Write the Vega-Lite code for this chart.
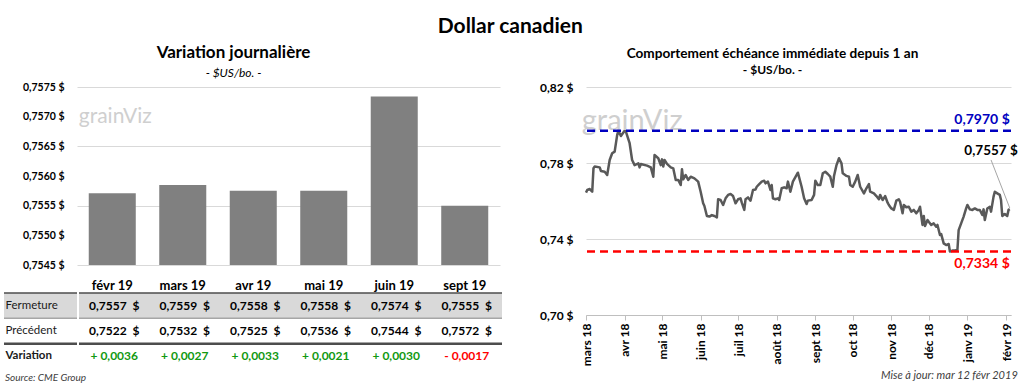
{
  "$schema": "https://vega.github.io/schema/vega-lite/v6.json",
  "background": "white",
  "padding": {"left": 2, "right": 2, "top": 16, "bottom": 2},
  "title": {"text": "Dollar canadien", "fontSize": 21, "fontWeight": "bold", "color": "#000000", "anchor": "middle", "offset": 7},
  "spacing": 35,
  "config": {
    "font": "Lato",
    "view": {"stroke": null},
    "title": {"font": "Lato", "color": "#000000", "subtitleFont": "Lato", "subtitleColor": "#000000"},
    "axis": {"labelFont": "Lato", "titleFont": "Lato", "labelOverlap": false},
    "text": {"font": "Lato"},
    "locale": {
      "number": {"decimal": ",", "thousands": " ", "grouping": [3], "currency": ["", " $"]},
      "time": {
        "dateTime": "%A %e %B %Y à %X",
        "date": "%d/%m/%Y",
        "time": "%H:%M:%S",
        "periods": ["AM", "PM"],
        "days": ["dimanche", "lundi", "mardi", "mercredi", "jeudi", "vendredi", "samedi"],
        "shortDays": ["dim.", "lun.", "mar.", "mer.", "jeu.", "ven.", "sam."],
        "months": ["janvier", "février", "mars", "avril", "mai", "juin", "juillet", "août", "septembre", "octobre", "novembre", "décembre"],
        "shortMonths": ["janv", "févr", "mars", "avr", "mai", "juin", "juil", "août", "sept", "oct", "nov", "déc"]
      }
    }
  },
  "datasets": {
    "months": [
      {"month": "févr 19", "close": 0.75571},
      {"month": "mars 19", "close": 0.75585},
      {"month": "avr 19", "close": 0.75575},
      {"month": "mai 19", "close": 0.75575},
      {"month": "juin 19", "close": 0.75734},
      {"month": "sept 19", "close": 0.7555}
    ],
    "table": [
      {"month": "févr 19", "row": "Fermeture", "value": 0.7557, "label": "0,7557 \u00a0$"},
      {"month": "mars 19", "row": "Fermeture", "value": 0.7559, "label": "0,7559 \u00a0$"},
      {"month": "avr 19", "row": "Fermeture", "value": 0.7558, "label": "0,7558 \u00a0$"},
      {"month": "mai 19", "row": "Fermeture", "value": 0.7558, "label": "0,7558 \u00a0$"},
      {"month": "juin 19", "row": "Fermeture", "value": 0.7574, "label": "0,7574 \u00a0$"},
      {"month": "sept 19", "row": "Fermeture", "value": 0.7555, "label": "0,7555 \u00a0$"},
      {"month": "févr 19", "row": "Précédent", "value": 0.7522, "label": "0,7522 \u00a0$"},
      {"month": "mars 19", "row": "Précédent", "value": 0.7532, "label": "0,7532 \u00a0$"},
      {"month": "avr 19", "row": "Précédent", "value": 0.7525, "label": "0,7525 \u00a0$"},
      {"month": "mai 19", "row": "Précédent", "value": 0.7536, "label": "0,7536 \u00a0$"},
      {"month": "juin 19", "row": "Précédent", "value": 0.7544, "label": "0,7544 \u00a0$"},
      {"month": "sept 19", "row": "Précédent", "value": 0.7572, "label": "0,7572 \u00a0$"},
      {"month": "févr 19", "row": "Variation", "value": 0.0036, "label": "+ 0,0036"},
      {"month": "mars 19", "row": "Variation", "value": 0.0027, "label": "+ 0,0027"},
      {"month": "avr 19", "row": "Variation", "value": 0.0033, "label": "+ 0,0033"},
      {"month": "mai 19", "row": "Variation", "value": 0.0021, "label": "+ 0,0021"},
      {"month": "juin 19", "row": "Variation", "value": 0.003, "label": "+ 0,0030"},
      {"month": "sept 19", "row": "Variation", "value": -0.0017, "label": "- 0,0017"}
    ],
    "levels": [
      {"d": "2019-02-04", "v": 0.797, "label": "0,7970 $", "kind": "Maximum"},
      {"d": "2019-02-04", "v": 0.7334, "label": "0,7334 $", "kind": "Minimum"}
    ],
    "series": [
      {"d": "2018-03-01", "v": 0.7644}, {"d": "2018-03-02", "v": 0.7658}, {"d": "2018-03-04", "v": 0.7663}, {"d": "2018-03-06", "v": 0.7649},
      {"d": "2018-03-07", "v": 0.7772}, {"d": "2018-03-08", "v": 0.7781}, {"d": "2018-03-12", "v": 0.7777}, {"d": "2018-03-13", "v": 0.7758},
      {"d": "2018-03-16", "v": 0.7754}, {"d": "2018-03-18", "v": 0.7737}, {"d": "2018-03-20", "v": 0.7816}, {"d": "2018-03-22", "v": 0.7851},
      {"d": "2018-03-24", "v": 0.786}, {"d": "2018-03-26", "v": 0.7947}, {"d": "2018-03-27", "v": 0.797}, {"d": "2018-03-29", "v": 0.7942},
      {"d": "2018-04-01", "v": 0.797}, {"d": "2018-04-02", "v": 0.7965}, {"d": "2018-04-05", "v": 0.7904}, {"d": "2018-04-07", "v": 0.7816},
      {"d": "2018-04-09", "v": 0.7789}, {"d": "2018-04-12", "v": 0.7798}, {"d": "2018-04-13", "v": 0.7777}, {"d": "2018-04-14", "v": 0.7795},
      {"d": "2018-04-19", "v": 0.7786}, {"d": "2018-04-22", "v": 0.7777}, {"d": "2018-04-24", "v": 0.7728}, {"d": "2018-04-25", "v": 0.7842},
      {"d": "2018-04-28", "v": 0.7825}, {"d": "2018-04-30", "v": 0.7789}, {"d": "2018-05-01", "v": 0.7819}, {"d": "2018-05-02", "v": 0.7781},
      {"d": "2018-05-03", "v": 0.7816}, {"d": "2018-05-05", "v": 0.7795}, {"d": "2018-05-08", "v": 0.7777}, {"d": "2018-05-10", "v": 0.7772},
      {"d": "2018-05-12", "v": 0.7711}, {"d": "2018-05-14", "v": 0.7711}, {"d": "2018-05-16", "v": 0.7684}, {"d": "2018-05-17", "v": 0.7767},
      {"d": "2018-05-18", "v": 0.7714}, {"d": "2018-05-20", "v": 0.7737}, {"d": "2018-05-22", "v": 0.7711}, {"d": "2018-05-24", "v": 0.7728},
      {"d": "2018-05-27", "v": 0.7719}, {"d": "2018-05-30", "v": 0.7702}, {"d": "2018-06-01", "v": 0.7649}, {"d": "2018-06-03", "v": 0.7588},
      {"d": "2018-06-04", "v": 0.7574}, {"d": "2018-06-06", "v": 0.7521}, {"d": "2018-06-08", "v": 0.7518}, {"d": "2018-06-10", "v": 0.7526},
      {"d": "2018-06-12", "v": 0.7521}, {"d": "2018-06-14", "v": 0.7514}, {"d": "2018-06-15", "v": 0.7609}, {"d": "2018-06-17", "v": 0.7605},
      {"d": "2018-06-19", "v": 0.7579}, {"d": "2018-06-21", "v": 0.7614}, {"d": "2018-06-23", "v": 0.7632}, {"d": "2018-06-25", "v": 0.7637},
      {"d": "2018-06-27", "v": 0.7626}, {"d": "2018-06-29", "v": 0.7588}, {"d": "2018-07-01", "v": 0.7609}, {"d": "2018-07-03", "v": 0.7614},
      {"d": "2018-07-04", "v": 0.7591}, {"d": "2018-07-06", "v": 0.7553}, {"d": "2018-07-07", "v": 0.7609}, {"d": "2018-07-09", "v": 0.7619},
      {"d": "2018-07-11", "v": 0.7602}, {"d": "2018-07-13", "v": 0.7658}, {"d": "2018-07-15", "v": 0.7661}, {"d": "2018-07-16", "v": 0.7675},
      {"d": "2018-07-18", "v": 0.7689}, {"d": "2018-07-20", "v": 0.7702}, {"d": "2018-07-22", "v": 0.7707}, {"d": "2018-07-23", "v": 0.7693},
      {"d": "2018-07-25", "v": 0.7702}, {"d": "2018-07-27", "v": 0.7658}, {"d": "2018-07-28", "v": 0.7684}, {"d": "2018-07-29", "v": 0.7614},
      {"d": "2018-07-31", "v": 0.7609}, {"d": "2018-08-02", "v": 0.7614}, {"d": "2018-08-03", "v": 0.7605}, {"d": "2018-08-05", "v": 0.7667},
      {"d": "2018-08-07", "v": 0.7672}, {"d": "2018-08-09", "v": 0.7667}, {"d": "2018-08-10", "v": 0.7702}, {"d": "2018-08-12", "v": 0.7649},
      {"d": "2018-08-14", "v": 0.7702}, {"d": "2018-08-17", "v": 0.7737}, {"d": "2018-08-18", "v": 0.7749}, {"d": "2018-08-21", "v": 0.7675},
      {"d": "2018-08-23", "v": 0.7614}, {"d": "2018-08-25", "v": 0.7584}, {"d": "2018-08-26", "v": 0.7602}, {"d": "2018-08-29", "v": 0.7605},
      {"d": "2018-08-31", "v": 0.7632}, {"d": "2018-09-01", "v": 0.7707}, {"d": "2018-09-03", "v": 0.7684}, {"d": "2018-09-05", "v": 0.7684},
      {"d": "2018-09-07", "v": 0.7746}, {"d": "2018-09-09", "v": 0.7754}, {"d": "2018-09-11", "v": 0.7742}, {"d": "2018-09-13", "v": 0.7728},
      {"d": "2018-09-15", "v": 0.7675}, {"d": "2018-09-16", "v": 0.7732}, {"d": "2018-09-18", "v": 0.7789}, {"d": "2018-09-20", "v": 0.7825},
      {"d": "2018-09-22", "v": 0.7798}, {"d": "2018-09-23", "v": 0.7746}, {"d": "2018-09-26", "v": 0.7732}, {"d": "2018-09-28", "v": 0.7728},
      {"d": "2018-09-29", "v": 0.7684}, {"d": "2018-10-01", "v": 0.7675}, {"d": "2018-10-03", "v": 0.7702}, {"d": "2018-10-05", "v": 0.7737},
      {"d": "2018-10-07", "v": 0.7675}, {"d": "2018-10-10", "v": 0.764}, {"d": "2018-10-12", "v": 0.7667}, {"d": "2018-10-14", "v": 0.7689},
      {"d": "2018-10-15", "v": 0.7649}, {"d": "2018-10-18", "v": 0.764}, {"d": "2018-10-20", "v": 0.7626}, {"d": "2018-10-22", "v": 0.7609},
      {"d": "2018-10-23", "v": 0.7632}, {"d": "2018-10-25", "v": 0.7605}, {"d": "2018-10-27", "v": 0.7626}, {"d": "2018-10-29", "v": 0.7591},
      {"d": "2018-10-30", "v": 0.7579}, {"d": "2018-11-01", "v": 0.7561}, {"d": "2018-11-03", "v": 0.7553}, {"d": "2018-11-05", "v": 0.7602},
      {"d": "2018-11-07", "v": 0.7609}, {"d": "2018-11-08", "v": 0.7596}, {"d": "2018-11-10", "v": 0.7535}, {"d": "2018-11-11", "v": 0.7579},
      {"d": "2018-11-13", "v": 0.7567}, {"d": "2018-11-15", "v": 0.757}, {"d": "2018-11-17", "v": 0.7544}, {"d": "2018-11-19", "v": 0.7553},
      {"d": "2018-11-21", "v": 0.7535}, {"d": "2018-11-23", "v": 0.7553}, {"d": "2018-11-24", "v": 0.757}, {"d": "2018-11-26", "v": 0.7474},
      {"d": "2018-11-27", "v": 0.7521}, {"d": "2018-11-28", "v": 0.7468}, {"d": "2018-11-30", "v": 0.75}, {"d": "2018-12-01", "v": 0.7491},
      {"d": "2018-12-03", "v": 0.7474}, {"d": "2018-12-05", "v": 0.7482}, {"d": "2018-12-07", "v": 0.7465}, {"d": "2018-12-08", "v": 0.7474},
      {"d": "2018-12-10", "v": 0.7421}, {"d": "2018-12-11", "v": 0.7426}, {"d": "2018-12-13", "v": 0.7377}, {"d": "2018-12-15", "v": 0.7368},
      {"d": "2018-12-17", "v": 0.7374}, {"d": "2018-12-18", "v": 0.7334}, {"d": "2018-12-20", "v": 0.7339}, {"d": "2018-12-22", "v": 0.7339},
      {"d": "2018-12-24", "v": 0.7342}, {"d": "2018-12-25", "v": 0.7447}, {"d": "2018-12-27", "v": 0.7482}, {"d": "2018-12-29", "v": 0.7518},
      {"d": "2018-12-31", "v": 0.7561}, {"d": "2019-01-01", "v": 0.7579}, {"d": "2019-01-03", "v": 0.7556}, {"d": "2019-01-05", "v": 0.7553},
      {"d": "2019-01-07", "v": 0.7561}, {"d": "2019-01-09", "v": 0.7553}, {"d": "2019-01-11", "v": 0.7553}, {"d": "2019-01-13", "v": 0.7526},
      {"d": "2019-01-14", "v": 0.7556}, {"d": "2019-01-15", "v": 0.75}, {"d": "2019-01-17", "v": 0.7561}, {"d": "2019-01-19", "v": 0.757},
      {"d": "2019-01-20", "v": 0.7544}, {"d": "2019-01-22", "v": 0.7623}, {"d": "2019-01-23", "v": 0.7649}, {"d": "2019-01-25", "v": 0.764},
      {"d": "2019-01-27", "v": 0.7632}, {"d": "2019-01-28", "v": 0.7605}, {"d": "2019-01-29", "v": 0.7521}, {"d": "2019-01-31", "v": 0.7532},
      {"d": "2019-02-02", "v": 0.7521}, {"d": "2019-02-03", "v": 0.7553}, {"d": "2019-02-04", "v": 0.7557}
    ]
  },
  "hconcat": [
    {
      "spacing": 0,
      "title": {"text": "Source: CME Group", "orient": "bottom", "anchor": "start", "frame": "group", "fontSize": 10, "fontStyle": "italic", "fontWeight": "normal", "color": "#404040", "offset": 4, "dx": 1},
      "vconcat": [
        {
          "spacing": -2,
          "hconcat": [
            {
              "width": 73,
              "height": 178,
              "data": {"name": "months"},
              "mark": {"type": "point", "opacity": 0},
              "encoding": {
                "y": {"field": "close", "type": "quantitative", "scale": {"domain": [0.7545, 0.7575], "zero": false, "nice": false},
                  "axis": {"title": null, "grid": false, "values": [0.7545, 0.755, 0.7555, 0.756, 0.7565, 0.757, 0.7575], "labelOverlap": false, "labelExpr": "replace(format(datum.value, '.4f'), '.', ',') + ' $'", "labelFontSize": 10.5, "labelFontWeight": "bold", "labelColor": "#000000", "labelAlign": "right", "labelPadding": -60, "domain": false, "ticks": false, "minExtent": 0, "maxExtent": 0}}
              }
            },
            {
              "width": 423,
              "height": 178,
              "title": {"text": "Variation journalière", "subtitle": "- $US/bo. -", "fontSize": 17, "fontWeight": "bold", "subtitleFontSize": 12, "subtitleFontStyle": "italic", "subtitlePadding": 6, "anchor": "middle", "frame": "group", "dx": -55, "offset": 7},
              "layer": [
                {
                  "data": {"name": "months"},
                  "mark": {"type": "bar", "color": "#808080"},
                  "encoding": {
                    "x": {"field": "month", "type": "ordinal", "sort": null, "scale": {"paddingInner": 0.333, "paddingOuter": 0.1667},
                      "axis": {"title": null, "labelAngle": 0, "labelFontSize": 13, "labelFontWeight": "bold", "labelColor": "#000000", "ticks": false, "domain": false, "labelPadding": 14}},
                    "y": {"field": "close", "type": "quantitative", "scale": {"domain": [0.7545, 0.7575], "zero": false, "nice": false},
                      "axis": {"title": null, "grid": true, "labels": false, "values": [0.7545, 0.755, 0.7555, 0.756, 0.7565, 0.757, 0.7575], "domain": false, "ticks": false, "gridColor": "#d9d9d9", "minExtent": 0, "maxExtent": 0}},
                    "y2": {"datum": 0.7545}
                  }
                },
                {
                  "data": {"values": [{}]},
                  "mark": {"type": "text", "text": "grainViz", "fontSize": 21, "color": "#cfcfcf", "dx": 3},
                  "encoding": {"x": {"datum": "févr 19", "type": "ordinal"}, "y": {"datum": 0.757, "type": "quantitative"}}
                }
              ]
            }
          ]
        },
        {
          "spacing": -5,
          "hconcat": [
            {
              "width": 73,
              "height": 76,
              "data": {"name": "table"},
              "transform": [{"filter": "datum.month === 'févr 19'"}],
              "encoding": {
                "y": {"field": "row", "type": "nominal", "scale": {"domain": ["Fermeture", "Précédent", "Variation"], "paddingInner": 0, "paddingOuter": 0},
                  "axis": {"title": null, "domain": false, "ticks": false, "grid": false, "labelAlign": "left", "labelPadding": -1, "labelFontSize": 11.5, "labelColor": "#1a1a1a", "zindex": 2,
                    "labelFontWeight": {"condition": {"test": "datum.value === 'Variation'", "value": "bold"}, "value": "normal"}, "minExtent": 0, "maxExtent": 0}}
              },
              "layer": [
                {
                  "transform": [{"filter": "datum.row === 'Fermeture'"}],
                  "mark": {"type": "rect", "color": "#d9d9d9"}
                },
                {
                  "mark": {"type": "rule"},
                  "encoding": {
                    "y": {"field": "row", "type": "nominal", "bandPosition": 0},
                    "color": {"condition": {"test": "datum.row === 'Précédent'", "value": "#a6a6a6"}, "value": "#4d4d4d"},
                    "strokeWidth": {"condition": {"test": "datum.row === 'Variation'", "value": 2.5}, "value": 1.5}
                  }
                }
              ]
            },
            {
              "width": 423,
              "height": 76,
              "data": {"name": "table"},
              "encoding": {
                "y": {"field": "row", "type": "nominal", "scale": {"domain": ["Fermeture", "Précédent", "Variation"], "paddingInner": 0, "paddingOuter": 0}, "axis": null}
              },
              "layer": [
                {
                  "transform": [{"filter": "datum.row === 'Fermeture' && datum.month === 'févr 19'"}],
                  "mark": {"type": "rect", "color": "#d9d9d9"}
                },
                {
                  "transform": [{"filter": "datum.month === 'févr 19'"}],
                  "mark": {"type": "rule"},
                  "encoding": {
                    "y": {"field": "row", "type": "nominal", "bandPosition": 0, "axis": null},
                    "color": {"condition": {"test": "datum.row === 'Précédent'", "value": "#a6a6a6"}, "value": "#4d4d4d"},
                    "strokeWidth": {"condition": {"test": "datum.row === 'Variation'", "value": 2.5}, "value": 1.5}
                  }
                },
                {
                  "mark": {"type": "text", "fontSize": 12, "fontWeight": "bold"},
                  "encoding": {
                    "x": {"field": "month", "type": "ordinal", "sort": null, "scale": {"paddingInner": 0, "paddingOuter": 0}, "axis": null},
                    "text": {"field": "label"},
                    "color": {"condition": [{"test": "datum.row === 'Variation' && datum.value < 0", "value": "#ff0000"}, {"test": "datum.row === 'Variation'", "value": "#119911"}], "value": "#000000"}
                  }
                }
              ]
            }
          ]
        }
      ]
    },
    {
      "title": {"text": "Mise à jour: mar 12 févr 2019", "orient": "bottom", "anchor": "end", "fontSize": 11, "fontStyle": "italic", "fontWeight": "normal", "color": "#404040", "offset": 4},
      "vconcat": [
        {
          "width": 425,
          "height": 228,
          "title": {"text": "Comportement échéance immédiate depuis 1 an", "subtitle": "- $US/bo. -", "fontSize": 13.6, "fontWeight": "bold", "subtitleFontSize": 12, "subtitleFontWeight": "bold", "subtitlePadding": 4, "anchor": "middle", "frame": "group", "dx": -26, "offset": 5},
          "layer": [
            {
              "data": {"name": "series"},
              "mark": {"type": "line", "color": "#595959", "strokeWidth": 2.5, "strokeJoin": "round"},
              "encoding": {
                "x": {"field": "d", "type": "temporal",
                  "scale": {"type": "utc", "domain": [{"year": 2018, "month": 3, "date": 1, "utc": true}, {"year": 2019, "month": 2, "date": 5, "utc": true}]},
                  "axis": {"title": null, "format": "%b %y", "tickCount": {"interval": "month", "step": 1}, "labelAngle": -90, "labelFontSize": 12, "labelFontWeight": "bold", "labelColor": "#000000", "tickColor": "#bfbfbf", "tickSize": 5, "domainColor": "#bfbfbf", "grid": false, "labelPadding": 3, "labelFlush": false, "labelOverlap": false, "labelBound": false}},
                "y": {"field": "v", "type": "quantitative", "scale": {"domain": [0.7, 0.82], "nice": false, "zero": false},
                  "axis": {"title": null, "grid": true, "values": [0.7, 0.72, 0.74, 0.76, 0.78, 0.8, 0.82], "labelOverlap": false, "labelExpr": "replace(format(datum.value, '.2f'), '.', ',') + ' $'", "labelFontSize": 12, "labelFontWeight": "bold", "labelColor": "#000000", "domain": false, "ticks": false, "labelPadding": 13, "gridColor": "#d9d9d9", "minExtent": 47, "maxExtent": 47}}
              }
            },
            {
              "data": {"values": [{}]},
              "mark": {"type": "text", "text": "grainViz", "fontSize": 29, "color": "#cfcfcf"},
              "encoding": {"x": {"datum": {"year": 2018, "month": 4, "date": 7, "utc": true}, "type": "temporal"}, "y": {"datum": 0.802, "type": "quantitative"}}
            },
            {
              "data": {"name": "levels"},
              "mark": {"type": "rule", "strokeDash": [8, 5], "strokeWidth": 2.5},
              "encoding": {
                "y": {"field": "v", "type": "quantitative"},
                "color": {"field": "kind", "type": "nominal", "scale": {"domain": ["Maximum", "Minimum"], "range": ["#0000c0", "#ff0000"]}, "legend": null}
              }
            },
            {
              "data": {"name": "levels"},
              "transform": [{"filter": "datum.kind === 'Maximum'"}],
              "mark": {"type": "text", "fontSize": 14, "fontWeight": "bold", "align": "right", "baseline": "alphabetic", "dy": -7},
              "encoding": {
                "x": {"field": "d", "type": "temporal"},
                "y": {"field": "v", "type": "quantitative"},
                "text": {"field": "label"},
                "color": {"field": "kind", "type": "nominal", "legend": null}
              }
            },
            {
              "data": {"name": "levels"},
              "transform": [{"filter": "datum.kind === 'Minimum'"}],
              "mark": {"type": "text", "fontSize": 14, "fontWeight": "bold", "align": "right", "baseline": "alphabetic", "dy": 16},
              "encoding": {
                "x": {"field": "d", "type": "temporal"},
                "y": {"field": "v", "type": "quantitative"},
                "text": {"field": "label"},
                "color": {"field": "kind", "type": "nominal", "legend": null}
              }
            },
            {
              "data": {"values": [{}]},
              "mark": {"type": "rule", "color": "#a6a6a6", "strokeWidth": 1},
              "encoding": {
                "x": {"datum": {"year": 2019, "month": 1, "date": 20, "utc": true}, "type": "temporal"},
                "x2": {"datum": {"year": 2019, "month": 2, "date": 4, "utc": true}},
                "y": {"datum": 0.7816, "type": "quantitative"},
                "y2": {"datum": 0.7563}
              }
            },
            {
              "data": {"values": [{}]},
              "mark": {"type": "text", "text": "0,7557 $", "fontSize": 13.5, "fontWeight": "bold", "color": "#000000", "baseline": "alphabetic"},
              "encoding": {
                "x": {"datum": {"year": 2019, "month": 1, "date": 20, "utc": true}, "type": "temporal"},
                "y": {"datum": 0.7842, "type": "quantitative"}
              }
            }
          ]
        }
      ]
    }
  ]
}
